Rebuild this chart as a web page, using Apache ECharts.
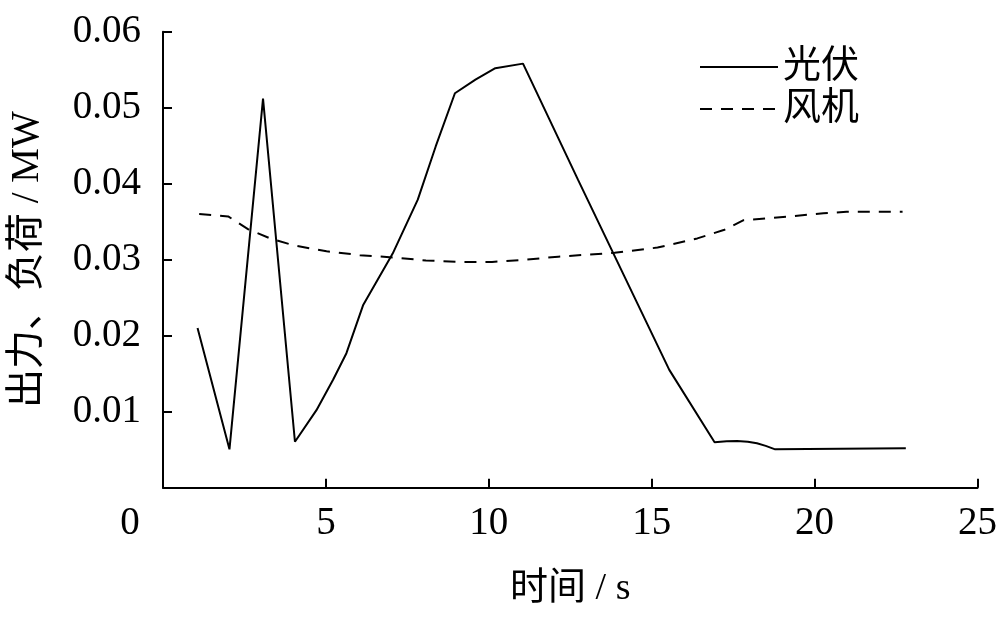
<!DOCTYPE html>
<html>
<head>
<meta charset="utf-8">
<script src="https://cdn.jsdelivr.net/npm/echarts@6/dist/echarts.min.js"></script>
<style>
html,body{margin:0;padding:0;background:#fff;}
#chart{width:1000px;height:617px;}
</style>
</head>
<body>
<div id="chart"></div>
<script>
// Data
var seriesNames = ['光伏', '风机'];
var pvTime  = [1.06, 2.04, 3.07, 4.05, 4.71, 5.22, 5.63, 6.14, 7.05, 7.82, 8.37, 8.96, 9.59, 10.2, 11.05, 12.74, 15.54, 16.93, 17.3, 17.62, 17.95, 18.23, 18.5, 18.79, 22.8];
var pvPower = [0.0210, 0.00505, 0.0512, 0.00605, 0.0102, 0.0142, 0.0177, 0.0240, 0.0308, 0.0379, 0.0449, 0.0519, 0.0537, 0.0552, 0.0558, 0.0405, 0.0155, 0.00597, 0.00612, 0.00614, 0.00606, 0.00584, 0.00550, 0.00505, 0.00518];
var windTime  = [1.11, 2.0, 2.62, 3.29, 4.0, 5.02, 6.04, 7.05, 8.07, 9.09, 10.1, 11.12, 12.13, 13.86, 15.18, 16.4, 17.21, 17.82, 18.74, 20.27, 20.98, 22.7];
var windPower = [0.0360, 0.0357, 0.0340, 0.0328, 0.0319, 0.0311, 0.0306, 0.0303, 0.0299, 0.0297, 0.0297, 0.0300, 0.0304, 0.0309, 0.0316, 0.0328, 0.0339, 0.0352, 0.0355, 0.0361, 0.0363, 0.0363];
var xTicks = [0, 5, 10, 15, 20, 25];
var yTicks = [0.01, 0.02, 0.03, 0.04, 0.05, 0.06];

function zip(a, b) { return a.map(function (v, i) { return [v, b[i]]; }); }

var FONT = "'Liberation Serif', 'Times New Roman', 'Noto Sans CJK SC', serif";
var chart = echarts.init(document.getElementById('chart'), null, {renderer: 'canvas'});
chart.setOption({
  animation: false,
  backgroundColor: '#fff',
  grid: {left: 162, right: 18, top: 31.7, bottom: 129.3, containLabel: false},
  legend: {
    orient: 'vertical',
    left: 694,
    top: 42,
    itemWidth: 78,
    itemHeight: 14,
    itemGap: 2,
    data: seriesNames,
    itemStyle: {opacity: 0},
    textStyle: {fontFamily: FONT, fontSize: 38, color: '#000', lineHeight: 40}
  },
  xAxis: {
    type: 'value',
    min: 0, max: 25, interval: 5,
    name: '时间 / s',
    nameLocation: 'middle',
    nameGap: 82,
    nameTextStyle: {fontFamily: FONT, fontSize: 38, color: '#000'},
    axisLine: {show: true, onZero: false, lineStyle: {color: '#000', width: 2}},
    axisTick: {show: true, inside: true, length: 9, lineStyle: {color: '#000', width: 2}},
    splitLine: {show: false},
    axisLabel: {
      margin: 17,
      fontFamily: FONT, fontSize: 39, color: '#000',
      formatter: function (v) {
        if (xTicks.indexOf(v) < 0) return '';
        return v === 0 ? '{z|0}' : String(v);
      },
      rich: {z: {fontFamily: FONT, fontSize: 39, color: '#000', padding: [0, 66, 0, 0]}}
    }
  },
  yAxis: {
    type: 'value',
    min: 0, max: 0.06, interval: 0.01,
    name: '出力、负荷 / MW',
    nameLocation: 'middle',
    nameRotate: 90,
    nameGap: 116,
    nameTextStyle: {fontFamily: FONT, fontSize: 39, color: '#000'},
    axisLine: {show: true, lineStyle: {color: '#000', width: 2}},
    axisTick: {show: true, inside: true, length: 9, lineStyle: {color: '#000', width: 2}},
    splitLine: {show: false},
    axisLabel: {
      margin: 22,
      fontFamily: FONT, fontSize: 39, color: '#000',
      showMinLabel: false,
      formatter: function (v) {
        for (var i = 0; i < yTicks.length; i++) {
          if (Math.abs(v - yTicks[i]) < 1e-9) return yTicks[i].toFixed(2);
        }
        return '';
      }
    }
  },
  series: [
    {
      name: seriesNames[0],
      type: 'line',
      data: zip(pvTime, pvPower),
      symbol: 'none',
      smooth: false,
      lineStyle: {color: '#000', width: 2, type: 'solid'},
      itemStyle: {color: '#000'}
    },
    {
      name: seriesNames[1],
      type: 'line',
      data: zip(windTime, windPower),
      symbol: 'none',
      smooth: false,
      lineStyle: {color: '#000', width: 2, type: [12, 9]},
      itemStyle: {color: '#000'}
    }
  ]
});
</script>
</body>
</html>
